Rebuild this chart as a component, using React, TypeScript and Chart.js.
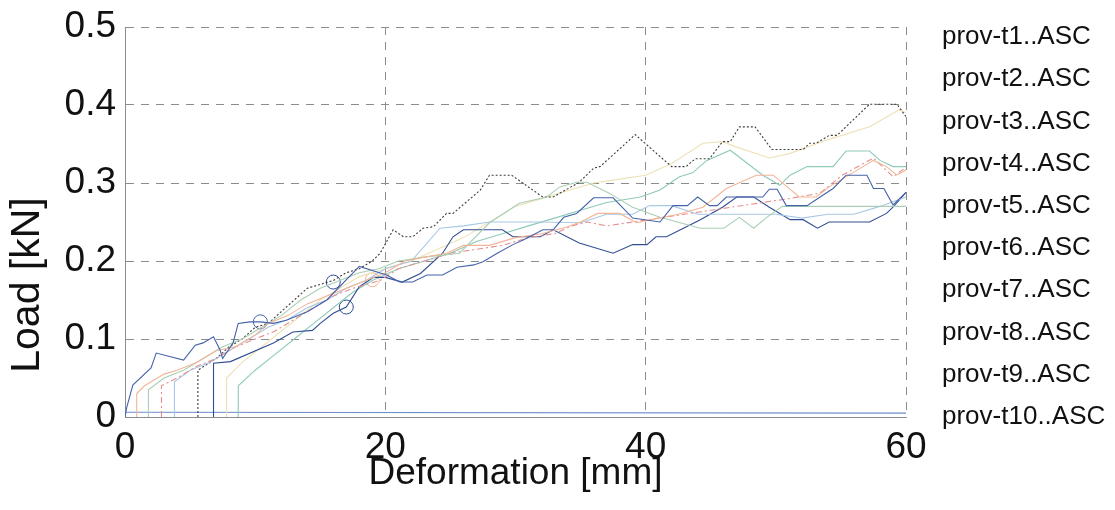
import React, { useEffect, useRef } from "react";
import { Chart, registerables } from "chart.js";

Chart.register(...registerables);

// ---------- data ----------
const seriesNames = [
  "prov-t1..ASC",
  "prov-t2..ASC",
  "prov-t3..ASC",
  "prov-t4..ASC",
  "prov-t5..ASC",
  "prov-t6..ASC",
  "prov-t7..ASC",
  "prov-t8..ASC",
  "prov-t9..ASC",
  "prov-t10..ASC",
];

const xTicks = [0, 20, 40, 60];
const yTicks = [0, 0.1, 0.2, 0.3, 0.4, 0.5];

const xTitle = "Deformation [mm]";
const yTitle = "Load [kN]";

// prov-t1 (dark blue)
const t1X = [0, 0.13, 0.6, 2.0, 2.4, 4.5, 5.4, 6.0, 6.8, 7.3, 7.5, 8.3, 8.7, 9.6, 10.4, 11.4, 12.4, 14.0, 15.5, 18.0, 20.1, 21.1, 22.1, 23.2, 24.4, 25.5, 26.8, 27.5, 28.6, 29.8, 30.6, 32.1, 32.9, 33.7, 34.7, 36.0, 37.5, 39.0, 41.1, 42.1, 43.2, 44.0, 44.9, 45.5, 46.2, 49.0, 49.5, 50.1, 50.8, 52.4, 53.4, 54.4, 55.4, 57.0, 57.5, 58.3, 59.0, 60];
const t1Y = [0, 0.012, 0.041, 0.063, 0.082, 0.073, 0.092, 0.095, 0.103, 0.086, 0.075, 0.095, 0.12, 0.122, 0.122, 0.12, 0.124, 0.135, 0.15, 0.193, 0.182, 0.173, 0.173, 0.182, 0.182, 0.192, 0.195, 0.199, 0.21, 0.221, 0.227, 0.24, 0.24, 0.256, 0.261, 0.281, 0.281, 0.255, 0.25, 0.271, 0.271, 0.282, 0.271, 0.271, 0.282, 0.282, 0.292, 0.292, 0.271, 0.271, 0.282, 0.293, 0.31, 0.31, 0.293, 0.293, 0.272, 0.288];

// prov-t2 (peach / orange)
const t2X = [0.9, 0.9, 1.5, 3, 4, 5.5, 7, 8.5, 10, 11, 12.5, 14, 15.5, 17, 18.5, 20, 21.5, 23, 24.7, 26, 28, 30, 32, 34, 35, 36.3, 38, 39.3, 41, 42.5, 44.4, 46.2, 48.5, 49.8, 51.8, 53.1, 54.1, 55.9, 57.5, 58.5, 59.3, 60];
const t2Y = [0, 0.03, 0.04, 0.055, 0.06, 0.07, 0.085, 0.09, 0.105, 0.12, 0.13, 0.145, 0.155, 0.165, 0.175, 0.185, 0.2, 0.205, 0.21, 0.22, 0.22, 0.23, 0.235, 0.244, 0.25, 0.261, 0.261, 0.249, 0.255, 0.26, 0.269, 0.293, 0.31, 0.31, 0.282, 0.282, 0.295, 0.313, 0.329, 0.321, 0.31, 0.317];

// prov-t3 (sage green)
const t3X = [1.8, 1.8, 3, 4.5, 6, 7.5, 9, 10.5, 12, 13.5, 15, 16.5, 18, 19.5, 21, 23, 25.7, 28, 30.3, 32.4, 33.4, 34.7, 35.5, 37.2, 39, 41.1, 44.2, 46, 47.2, 48.3, 49.3, 50.5, 52, 55, 58, 60];
const t3Y = [0, 0.035, 0.05, 0.06, 0.075, 0.09, 0.1, 0.115, 0.13, 0.15, 0.165, 0.175, 0.185, 0.19, 0.2, 0.205, 0.21, 0.249, 0.274, 0.282, 0.295, 0.301, 0.301, 0.287, 0.269, 0.256, 0.242, 0.242, 0.256, 0.242, 0.256, 0.27, 0.27, 0.27, 0.27, 0.27];

// prov-t4 (pink / red)
const t4X = [2.8, 2.8, 4, 5.5, 7, 8.5, 10, 11.5, 13, 14.5, 16, 17.5, 19.6, 21, 23, 25, 27, 29, 31, 33, 34.3, 35.5, 37, 39, 41, 43, 45, 47, 49, 51, 53.4, 55.1, 57.5, 59, 60];
const t4Y = [0, 0.04, 0.05, 0.065, 0.075, 0.09, 0.1, 0.11, 0.125, 0.14, 0.155, 0.165, 0.175, 0.19, 0.2, 0.21, 0.215, 0.22, 0.23, 0.235, 0.245, 0.25, 0.245, 0.25, 0.255, 0.26, 0.265, 0.27, 0.275, 0.28, 0.287, 0.31, 0.332, 0.308, 0.32];

// prov-t5 (light blue)
const t5X = [3.8, 3.8, 5, 6.5, 8, 9.5, 11, 12.5, 14, 15.5, 17, 18.5, 20, 22, 24.2, 26, 28, 30, 32, 35, 37, 39, 40.3, 42, 44, 46, 48, 50, 52, 54, 56, 58, 60];
const t5Y = [0, 0.045, 0.06, 0.07, 0.085, 0.1, 0.115, 0.125, 0.14, 0.15, 0.165, 0.175, 0.19, 0.2, 0.242, 0.245, 0.25, 0.25, 0.25, 0.249, 0.26, 0.26, 0.271, 0.271, 0.26, 0.26, 0.26, 0.26, 0.255, 0.26, 0.26, 0.27, 0.282];

// prov-t6 (black dotted)
const t6X = [5.6, 5.6, 7, 8, 9, 10, 11, 12, 13, 14, 15, 16, 17, 18, 19, 19.6, 20.6, 21.4, 22.1, 22.9, 23.7, 24.7, 25.2, 27.3, 28.0, 29.7, 32.1, 32.9, 34.9, 36.0, 36.5, 39.2, 41.1, 42.0, 43.1, 43.8, 44.9, 45.9, 46.5, 47.2, 48.4, 49.7, 52.1, 52.6, 53.1, 54.1, 54.7, 57.2, 59.3, 60];
const t6Y = [0, 0.06, 0.075, 0.09, 0.1, 0.115, 0.12, 0.135, 0.15, 0.165, 0.17, 0.175, 0.185, 0.19, 0.2, 0.21, 0.24, 0.231, 0.231, 0.242, 0.244, 0.261, 0.261, 0.291, 0.31, 0.31, 0.282, 0.282, 0.301, 0.319, 0.321, 0.362, 0.334, 0.321, 0.321, 0.331, 0.331, 0.353, 0.353, 0.372, 0.372, 0.343, 0.343, 0.351, 0.351, 0.361, 0.361, 0.401, 0.401, 0.385];

// prov-t7 (navy)
const t7X = [6.8, 6.8, 8.1, 11.4, 12.9, 14.4, 15.0, 16.0, 17.0, 18.0, 19.1, 20.0, 21.3, 22.7, 24.4, 25.2, 26.0, 29.0, 29.8, 31.9, 32.9, 34.9, 37.5, 39.0, 40.1, 40.8, 41.6, 42.9, 44.2, 45.9, 47.0, 48.3, 49.5, 51.1, 52.1, 53.2, 54.1, 57.2, 58.5, 59.0, 60];
const t7Y = [0, 0.069, 0.071, 0.095, 0.109, 0.111, 0.12, 0.133, 0.141, 0.167, 0.179, 0.179, 0.173, 0.184, 0.21, 0.231, 0.24, 0.24, 0.231, 0.231, 0.24, 0.223, 0.21, 0.221, 0.221, 0.231, 0.231, 0.242, 0.253, 0.269, 0.282, 0.282, 0.269, 0.253, 0.253, 0.242, 0.25, 0.25, 0.261, 0.269, 0.288];

// prov-t8 (pale yellow)
const t8X = [7.8, 7.8, 9, 10.5, 12, 13.5, 15, 16.5, 18, 20, 22, 24, 26, 28, 30, 32, 34, 36, 38, 40, 42, 44.4, 45.9, 47, 49.5, 51.1, 53.9, 57.2, 59.5, 60];
const t8Y = [0, 0.05, 0.07, 0.09, 0.11, 0.13, 0.15, 0.165, 0.18, 0.19, 0.2, 0.215, 0.23, 0.25, 0.27, 0.28, 0.29, 0.3, 0.305, 0.31, 0.325, 0.351, 0.353, 0.346, 0.332, 0.338, 0.355, 0.372, 0.394, 0.39];

// prov-t9 (teal green)
const t9X = [8.7, 8.7, 10, 11.5, 13, 14.5, 16, 17.5, 19, 21, 23, 25, 27, 29, 31, 33, 35, 37, 39.6, 41.1, 42.6, 43.6, 44.7, 46.5, 47.2, 49, 50.3, 51.1, 52.4, 54.4, 55.4, 57.2, 58, 59, 60];
const t9Y = [0, 0.04, 0.06, 0.08, 0.1, 0.12, 0.14, 0.16, 0.175, 0.19, 0.2, 0.21, 0.225, 0.235, 0.245, 0.255, 0.265, 0.275, 0.282, 0.291, 0.308, 0.313, 0.329, 0.342, 0.333, 0.31, 0.297, 0.31, 0.321, 0.321, 0.341, 0.341, 0.329, 0.321, 0.321];

// prov-t10 (flat near zero)
const t10X = [0, 60];
const t10Y = [0.006, 0.005];

// circle markers seen on the curves
const markerX = [10.4, 16.0, 17.0, 19.0];
const markerY = [0.122, 0.173, 0.141, 0.176];
const markerSeries = [0, 6, 6, 1];

// ---------- styles ----------
const seriesX = [t1X, t2X, t3X, t4X, t5X, t6X, t7X, t8X, t9X, t10X];
const seriesY = [t1Y, t2Y, t3Y, t4Y, t5Y, t6Y, t7Y, t8Y, t9Y, t10Y];
const seriesColors = [
  "#4563aa",
  "#f3b596",
  "#a9cfb4",
  "#e58f8f",
  "#a8c8e6",
  "#3c3c3c",
  "#2f4d92",
  "#ede2b6",
  "#8ec9b9",
  "#6e8fca",
];
const seriesDash: number[][] = [[], [], [], [6, 3, 2, 3], [], [2, 2], [], [], [], []];

const FONT = '"Liberation Sans", Arial, Helvetica, sans-serif';

export default function App() {
  const ref = useRef<HTMLCanvasElement | null>(null);

  useEffect(() => {
    document.body.style.margin = "0";
    document.body.style.overflow = "hidden";
    const canvas = ref.current;
    if (!canvas) return;

    const datasets: any[] = seriesNames.map((name, i) => ({
      label: name,
      data: seriesX[i].map((x, k) => ({ x, y: seriesY[i][k] })),
      borderColor: seriesColors[i],
      borderWidth: 1.1,
      borderDash: seriesDash[i],
      pointRadius: 0,
      fill: false,
      tension: 0,
    }));
    datasets.push({
      label: "markers",
      type: "scatter",
      data: markerX.map((x, k) => ({ x, y: markerY[k] })),
      showLine: false,
      pointRadius: 7,
      pointStyle: "circle",
      pointBorderWidth: 1,
      pointBorderColor: markerSeries.map((s) => seriesColors[s]),
      pointBackgroundColor: "rgba(0,0,0,0)",
    });

    const textPlugin = {
      id: "sideTexts",
      afterDraw(chart: any) {
        const { ctx, chartArea } = chart;
        ctx.save();
        ctx.fillStyle = "#111111";
        ctx.font = `26px ${FONT}`;
        ctx.textAlign = "left";
        ctx.textBaseline = "middle";
        seriesNames.forEach((n, i) => {
          ctx.fillText(n, chartArea.right + 36, 37 + 42.2 * i);
        });
        ctx.translate(28, 285);
        ctx.rotate(-Math.PI / 2);
        ctx.font = `41px ${FONT}`;
        ctx.textAlign = "center";
        ctx.fillText(yTitle, 0, 0);
        ctx.restore();
      },
    };

    const chart = new Chart(canvas, {
      type: "line",
      data: { datasets },
      plugins: [textPlugin],
      options: {
        animation: false,
        responsive: false,
        devicePixelRatio: 1,
        layout: { padding: { top: 27, right: 209, left: 0, bottom: 0 } },
        plugins: {
          legend: { display: false },
          tooltip: { enabled: false },
          title: { display: false },
        },
        scales: {
          x: {
            type: "linear",
            min: 0,
            max: 60,
            afterBuildTicks: (s: any) => {
              s.ticks = xTicks.map((v) => ({ value: v }));
            },
            afterFit: (s: any) => {
              s.height = 93;
              s.paddingLeft = 0;
              s.paddingRight = 0;
            },
            grid: { color: "#8c8c8c", lineWidth: 1, drawTicks: false },
            border: { display: true, color: "#8c8c8c", width: 1, dash: [8, 7] },
            ticks: {
              color: "#111111",
              padding: 9,
              maxRotation: 0,
              font: { family: FONT, size: 37 },
            },
            title: {
              display: true,
              text: xTitle,
              color: "#111111",
              font: { family: FONT, size: 37 },
              padding: { top: 0, bottom: 14 },
            },
          },
          y: {
            type: "linear",
            min: 0,
            max: 0.5,
            afterBuildTicks: (s: any) => {
              s.ticks = yTicks.map((v) => ({ value: v }));
            },
            afterFit: (s: any) => {
              s.width = 125;
              s.paddingTop = 0;
              s.paddingBottom = 0;
            },
            grid: { color: "#8c8c8c", lineWidth: 1, drawTicks: false },
            border: { display: true, color: "#8c8c8c", width: 1, dash: [8, 7] },
            ticks: {
              color: "#111111",
              padding: 9,
              font: { family: FONT, size: 37 },
            },
          },
        },
      },
    } as any);

    return () => {
      chart.destroy();
    };
  }, []);

  return (
    <div style={{ width: 1115, height: 510, background: "#ffffff" }}>
      <canvas ref={ref} width={1115} height={510} style={{ display: "block" }} />
    </div>
  );
}
